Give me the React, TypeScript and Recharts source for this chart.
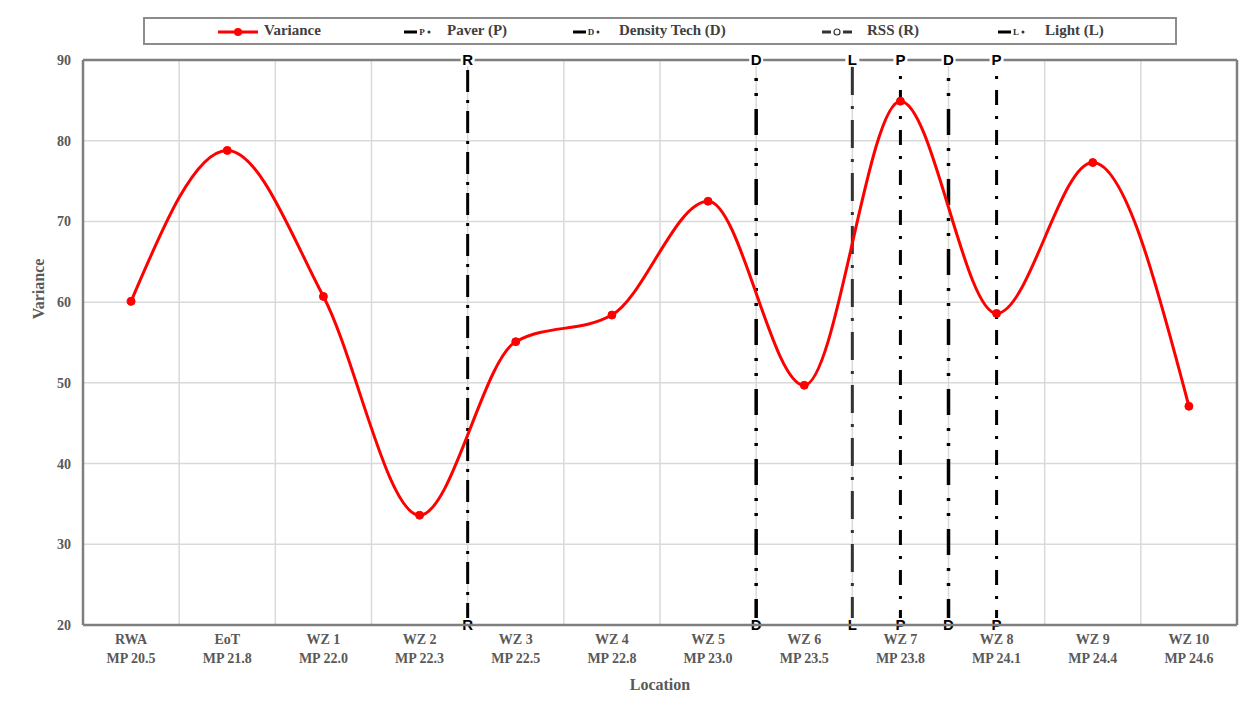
import React from "react";
import {
  CartesianGrid,
  Line,
  LineChart,
  ReferenceLine,
  XAxis,
  YAxis,
} from "recharts";

const locations = ["RWA", "EoT", "WZ 1", "WZ 2", "WZ 3", "WZ 4", "WZ 5", "WZ 6", "WZ 7", "WZ 8", "WZ 9", "WZ 10"];
const mileposts = ["MP 20.5", "MP 21.8", "MP 22.0", "MP 22.3", "MP 22.5", "MP 22.8", "MP 23.0", "MP 23.5", "MP 23.8", "MP 24.1", "MP 24.4", "MP 24.6"];
const variance = [60.1, 78.8, 60.7, 33.6, 55.1, 58.4, 72.5, 49.7, 84.9, 58.6, 77.3, 47.1];

// countermeasure positions, in category units
const eventPos = [3.5, 6.5, 7.5, 8, 8.5, 9];
const eventCode = ["R", "D", "L", "P", "D", "P"];

const yTicks = [20, 30, 40, 50, 60, 70, 80, 90];
const gridX = [0.5, 1.5, 2.5, 3.5, 4.5, 5.5, 6.5, 7.5, 8.5, 9.5, 10.5];

const data = variance.map((v, i) => ({ idx: i, variance: v }));

const lineStyle: Record<string, { dash: string; width: number; color: string }> = {
  R: { dash: "22 8 3 8", width: 3, color: "#000" },
  D: { dash: "26 13 3 12 3 13", width: 3.5, color: "#000" },
  L: { dash: "28 11 3 11", width: 3, color: "#333" },
  P: { dash: "15 11 3 11", width: 3, color: "#000" },
};

const serif = "'Liberation Serif', 'Times New Roman', serif";
const gray = "#595959";

const LocTick = (props: any) => {
  const { x, y, payload } = props;
  const i = payload.value;
  return (
    <text x={x} y={y} textAnchor="middle" fill={gray} fontFamily={serif} fontWeight="bold" fontSize={14}>
      <tspan x={x} dy={11}>{locations[i]}</tspan>
      <tspan x={x} dy={19}>{mileposts[i]}</tspan>
    </text>
  );
};

const markerLabel = (code: string) => (props: any) => {
  const vb = props.viewBox || {};
  const x = vb.x;
  const top = vb.y;
  const bottom = vb.y + vb.height;
  const t = (yy: number) => (
    <g key={yy}>
      <rect x={x - 7} y={yy - 7} width={14} height={13} fill="#fff" />
      <text x={x} y={yy + 5} textAnchor="middle" fontFamily="'Liberation Sans', Arial, sans-serif" fontWeight="bold" fontSize={15} fill="#000">
        {code}
      </text>
    </g>
  );
  return <g>{t(top)}{t(bottom)}</g>;
};

// legend layout, page x of icon and text
const legendItems = [
  { left: 214, textLeft: 264, label: "Variance", code: "V" },
  { left: 396, textLeft: 447, label: "Paver (P)", code: "P" },
  { left: 565, textLeft: 619, label: "Density Tech (D)", code: "D" },
  { left: 814, textLeft: 867, label: "RSS (R)", code: "R" },
  { left: 990, textLeft: 1045, label: "Light (L)", code: "L" },
];

const LegendIcon = ({ code }: { code: string }) => {
  if (code === "V") {
    return (
      <svg width={46} height={12}>
        <line x1={4} y1={6} x2={44} y2={6} stroke="#ff0000" strokeWidth={3} />
        <circle cx={24} cy={6} r={4} fill="#ff0000" />
      </svg>
    );
  }
  if (code === "R") {
    return (
      <svg width={46} height={12}>
        <line x1={8} y1={6} x2={17} y2={6} stroke="#333" strokeWidth={3} />
        <circle cx={23} cy={6} r={3} fill="none" stroke="#333" strokeWidth={1.2} />
        <line x1={29} y1={6} x2={38} y2={6} stroke="#333" strokeWidth={3} />
      </svg>
    );
  }
  return (
    <svg width={46} height={12}>
      <line x1={8} y1={6} x2={21} y2={6} stroke="#000" strokeWidth={3} />
      <text x={26} y={9} fontSize={9} fontWeight="bold" fontFamily={serif} fill="#333" textAnchor="middle">{code}</text>
      <circle cx={33} cy={6} r={1.5} fill="#333" />
    </svg>
  );
};

export default function App() {
  return (
    <div
      style={{
        position: "relative",
        left: -1,
        top: -2,
        width: 1250,
        height: 711,
        borderLeft: "1px solid #d9d9d9",
        borderTop: "1px solid #d9d9d9",
        background: "#fff",
      }}
    >
      <div
        style={{
          position: "absolute",
          left: 135,
          top: 10,
          width: 1030,
          height: 24,
          border: "2px solid #8c8c8c",
          fontFamily: serif,
          fontWeight: "bold",
          fontSize: 15,
          color: "#404040",
        }}
      >
        {legendItems.map((it) => (
          <React.Fragment key={it.label}>
            <div style={{ position: "absolute", left: it.left - 145, top: 6 }}>
              <LegendIcon code={it.code} />
            </div>
            <div style={{ position: "absolute", left: it.textLeft - 145, top: 3 }}>{it.label}</div>
          </React.Fragment>
        ))}
      </div>
      <div style={{ position: "absolute", left: 0, top: 0 }}>
        <LineChart width={1240} height={700} data={data} margin={{ top: 53, right: 11, left: 10, bottom: 22 }}>
          <CartesianGrid vertical={false} stroke="#d9d9d9" strokeWidth={1.5} />
          {gridX.map((g) => (
            <ReferenceLine key={"g" + g} x={g} stroke="#d9d9d9" strokeWidth={1.5} />
          ))}
          <ReferenceLine y={90} stroke="#7f7f7f" strokeWidth={2.5} />
          <ReferenceLine x={11.5} stroke="#7f7f7f" strokeWidth={2.5} />
          <XAxis
            dataKey="idx"
            type="number"
            domain={[-0.5, 11.5]}
            ticks={locations.map((_, i) => i)}
            interval={0}
            tick={<LocTick />}
            tickLine={false}
            axisLine={{ stroke: "#7f7f7f", strokeWidth: 2.5 }}
            height={60}
            label={{
              content: (p: any) => {
                const vb = p.viewBox || {};
                return (
                  <text x={vb.x + vb.width / 2} y={vb.y + 65} textAnchor="middle" fill={gray} fontFamily={serif} fontWeight="bold" fontSize={16}>
                    Location
                  </text>
                );
              },
            }}
          />
          <YAxis
            domain={[20, 90]}
            ticks={yTicks}
            tickLine={false}
            axisLine={{ stroke: "#7f7f7f", strokeWidth: 2.5 }}
            width={65}
            tick={{ fill: gray, fontFamily: serif, fontWeight: "bold", fontSize: 14 }}
            tickMargin={6}
            label={{
              content: (p: any) => {
                const vb = p.viewBox || {};
                const cx = vb.x + 20;
                const cy = vb.y + 229;
                return (
                  <text x={cx} y={cy} transform={`rotate(-90 ${cx} ${cy})`} textAnchor="middle" dominantBaseline="central" fill={gray} fontFamily={serif} fontWeight="bold" fontSize={16}>
                    Variance
                  </text>
                );
              },
            }}
          />
          {eventPos.map((x, i) => {
            const s = lineStyle[eventCode[i]];
            return (
              <ReferenceLine
                key={"e" + i}
                x={x}
                stroke={s.color}
                strokeWidth={s.width}
                strokeDasharray={s.dash}
                label={markerLabel(eventCode[i])}
              />
            );
          })}
          <Line
            type="monotone"
            dataKey="variance"
            stroke="#ff0000"
            strokeWidth={3}
            dot={{ r: 4, fill: "#ff0000", stroke: "#ff0000", strokeWidth: 1 }}
            isAnimationActive={false}
          />
        </LineChart>
      </div>
    </div>
  );
}
